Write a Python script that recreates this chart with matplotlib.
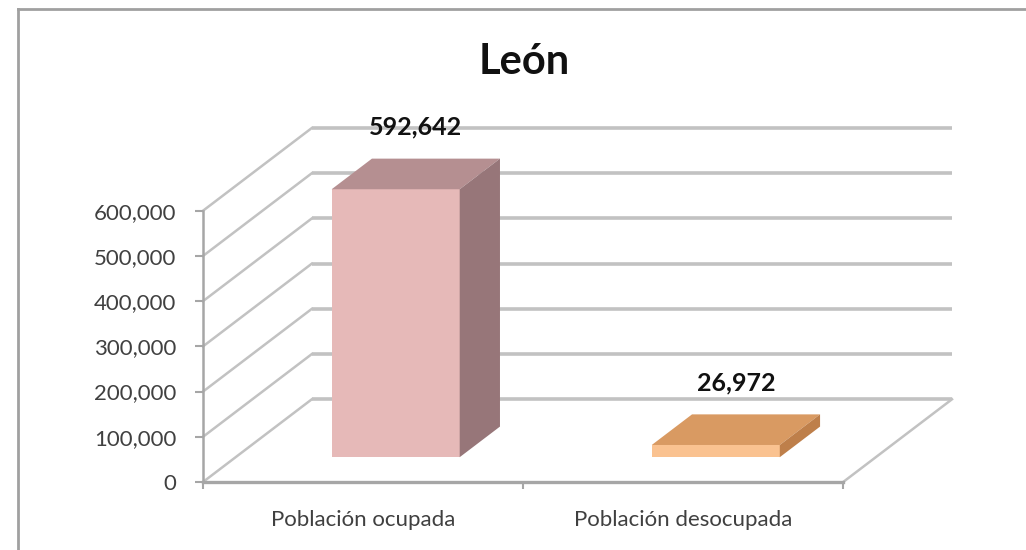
import matplotlib
matplotlib.use('Agg')
import matplotlib.pyplot as plt
from matplotlib.patches import Polygon
from matplotlib.ticker import FuncFormatter

titulo = 'León'
categorias = ['Población ocupada', 'Población desocupada']
poblacion = [592642, 26972]
ticks_y = [0, 100000, 200000, 300000, 400000, 500000, 600000]

cara_frente = ['#E6B9B8', '#FAC290']
cara_arriba = ['#B58F91', '#D99A62']
cara_lado = ['#977679', '#BE7F4A']

plt.rcParams['font.family'] = ['Lato', 'DejaVu Sans']

fig = plt.figure(figsize=(10.26, 5.5), dpi=100)
ax = fig.add_axes([203 / 1026, 68 / 550, 749 / 1026, 354 / 550])

# oblique offset of the full floor depth, in data units
DX = 0.34
DY = 183000
d0, d1 = 0.30, 0.67   # front and back of the bars inside the floor
ancho = 0.4
ymax = ticks_y[-1]
ncat = len(categorias)

ax.set_xlim(0, ncat + DX)
ax.set_ylim(0, ymax + DY)

gris = '#C2C2C2'
# back wall and left wall gridlines
for v in ticks_y:
    ax.plot([DX, ncat + DX], [v + DY, v + DY], color=gris, lw=2.6,
            solid_capstyle='butt', clip_on=False, zorder=1)
    ax.plot([0, DX], [v, v + DY], color=gris, lw=1.8, clip_on=False, zorder=1)
# right edge of the floor
ax.plot([ncat, ncat + DX], [0, DY], color=gris, lw=1.8, clip_on=False, zorder=1)

# bars: front face with ax.bar, top and side faces as polygons
x = [i + 0.5 for i in range(ncat)]
x_frente = [xi + d0 * DX for xi in x]
ax.bar(x_frente, poblacion, width=ancho, bottom=d0 * DY, color=cara_frente,
       zorder=3)
for i, v in enumerate(poblacion):
    x0 = x[i] - ancho / 2
    x1 = x[i] + ancho / 2
    arriba = [(x0 + d0 * DX, v + d0 * DY), (x1 + d0 * DX, v + d0 * DY),
              (x1 + d1 * DX, v + d1 * DY), (x0 + d1 * DX, v + d1 * DY)]
    lado = [(x1 + d0 * DX, d0 * DY), (x1 + d0 * DX, v + d0 * DY),
            (x1 + d1 * DX, v + d1 * DY), (x1 + d1 * DX, d1 * DY)]
    ax.add_patch(Polygon(arriba, closed=True, fc=cara_arriba[i], ec='none', zorder=3))
    ax.add_patch(Polygon(lado, closed=True, fc=cara_lado[i], ec='none', zorder=3))
    dm = (d0 + d1) / 2
    ax.annotate('{:,}'.format(v), (x[i] + dm * DX, v + dm * DY),
                xytext=(0, 34), textcoords='offset points', ha='center',
                va='center', fontsize=18, fontweight='bold', color='#111111',
                zorder=5)

# axes
for s in ['top', 'right']:
    ax.spines[s].set_visible(False)
ax.spines['left'].set_bounds(0, ymax)
ax.spines['bottom'].set_bounds(0, ncat)
ax.spines['left'].set_color('#A6A6A6')
ax.spines['bottom'].set_color('#A6A6A6')
ax.spines['left'].set_linewidth(1.8)
ax.spines['bottom'].set_linewidth(2.4)
ax.spines['left'].set_zorder(2)
ax.spines['bottom'].set_zorder(2)

ax.set_yticks(ticks_y)
ax.yaxis.set_major_formatter(FuncFormatter(lambda v, p: '{:,.0f}'.format(v)))
ax.tick_params(axis='y', length=6, width=1.5, color='#A6A6A6', pad=13,
               labelsize=16, labelcolor='#404040')

ax.set_xticks(range(ncat + 1))
ax.set_xticklabels([])
ax.set_xticks(x, minor=True)
ax.set_xticklabels(categorias, minor=True)
ax.tick_params(axis='x', which='major', length=5, width=1.5, color='#A6A6A6')
ax.tick_params(axis='x', which='minor', length=0, pad=20, labelsize=16,
               labelcolor='#404040')

fig.text(524 / 1026, 1 - 62 / 550, titulo, ha='center', va='center',
         fontsize=30, fontweight='bold', color='#111111')

# chart area border
fig.add_artist(plt.Line2D([18 / 1026, 18 / 1026], [0, 1 - 9 / 550],
                          transform=fig.transFigure, color='#A0A0A0', lw=2))
fig.add_artist(plt.Line2D([18 / 1026, 1], [1 - 9 / 550, 1 - 9 / 550],
                          transform=fig.transFigure, color='#A0A0A0', lw=2))

fig.savefig('out.png', dpi=100)
